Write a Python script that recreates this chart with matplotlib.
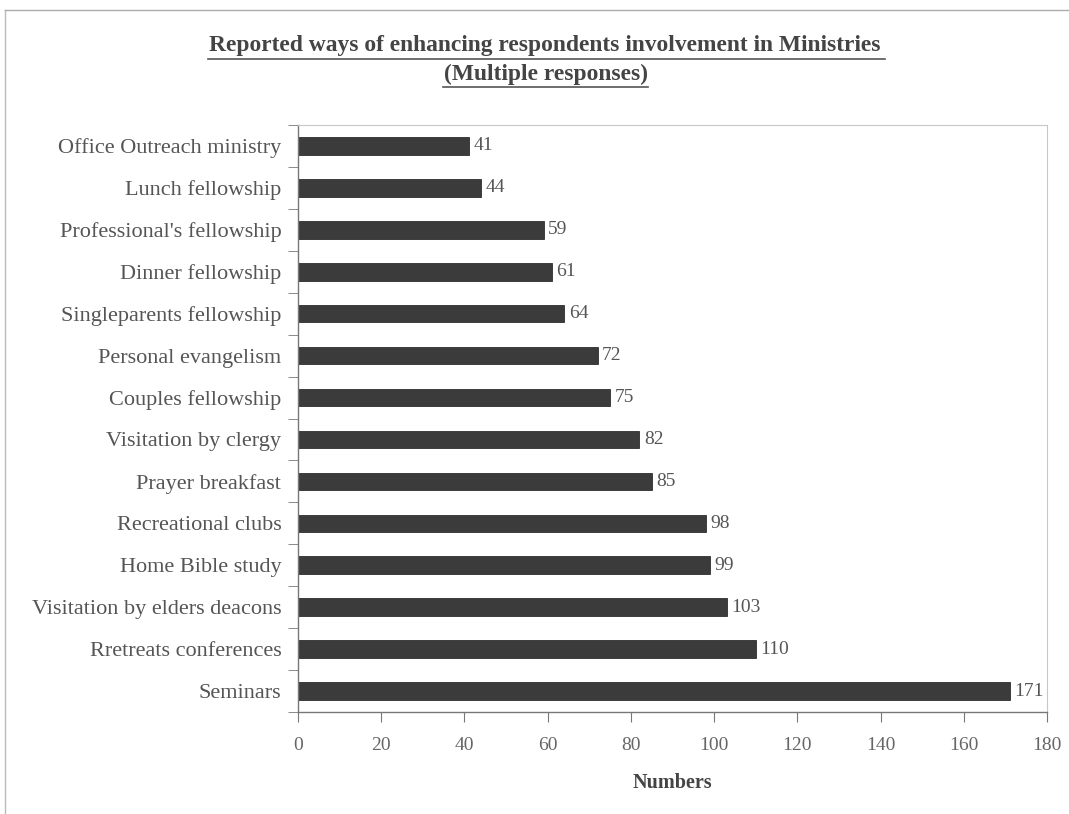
import matplotlib
matplotlib.use("Agg")
import matplotlib.pyplot as plt
from matplotlib.lines import Line2D

categories = [
    "Office Outreach ministry", "Lunch fellowship", "Professional's fellowship",
    "Dinner fellowship", "Singleparents fellowship", "Personal evangelism",
    "Couples fellowship", "Visitation by clergy", "Prayer breakfast",
    "Recreational clubs", "Home Bible study", "Visitation by elders deacons",
    "Rretreats conferences", "Seminars",
]
values = [41, 44, 59, 61, 64, 72, 75, 82, 85, 98, 99, 103, 110, 171]
xticks = [0, 20, 40, 60, 80, 100, 120, 140, 160, 180]

W, H = 1069, 814
fig = plt.figure(figsize=(W / 100, H / 100), dpi=100)
plt.rcParams["font.family"] = ["Liberation Serif", "DejaVu Serif"]

ax = fig.add_axes([298 / W, 1 - 712 / H, (1047 - 298) / W, (712 - 125) / H])

n = len(categories)
ypos = list(range(n))
ax.barh(ypos, values, height=0.42, color="#3b3b3b", edgecolor="#2e2e2e", linewidth=0.6)
for y, v in zip(ypos, values):
    ax.text(v + 1.1, y, f"{v}", va="center", ha="left", fontsize=14, color="#555555")

ax.set_ylim(n - 0.5, -0.5)
ax.set_xlim(0, 180)
ax.set_xticks(xticks)
ax.set_xticklabels([str(t) for t in xticks], fontsize=14, color="#666666")
ax.set_yticks(ypos)
ax.set_yticklabels(categories, fontsize=16, color="#555555")
ax.set_yticks([i - 0.5 for i in range(n + 1)], minor=True)
ax.tick_params(axis="y", which="major", length=0, pad=12)
ax.tick_params(axis="y", which="minor", length=7, color="#777777", direction="out")
ax.tick_params(axis="x", length=7, color="#777777", direction="out", pad=11)

for side in ("left", "bottom"):
    ax.spines[side].set_color("#777777")
    ax.spines[side].set_linewidth(1.0)
for side in ("top", "right"):
    ax.spines[side].set_color("#c8c8c8")
    ax.spines[side].set_linewidth(0.8)
    ax.spines[side].set_linestyle((0, (2, 1)))

ax.set_xlabel("Numbers", fontsize=14.5, fontweight="bold", color="#444444", labelpad=14)

# Title with underlines
fig.text(545 / W, 1 - 46 / H, "Reported ways of enhancing respondents involvement in Ministries",
         ha="center", va="center", fontsize=16.9, fontweight="bold", color="#444444")
fig.text(545.5 / W, 1 - 74 / H, "(Multiple responses)",
         ha="center", va="center", fontsize=16.9, fontweight="bold", color="#444444")
fig.add_artist(Line2D([208 / W, 885 / W], [1 - 59 / H, 1 - 59 / H],
                      transform=fig.transFigure, color="#555555", lw=1.2))
fig.add_artist(Line2D([443 / W, 648 / W], [1 - 87 / H, 1 - 87 / H],
                      transform=fig.transFigure, color="#555555", lw=1.2))

# Outer frame
fig.add_artist(Line2D([5 / W, 5 / W], [0, 1 - 10 / H], transform=fig.transFigure,
                      color="#bbbbbb", lw=1.0))
fig.add_artist(Line2D([5 / W, 1], [1 - 10 / H, 1 - 10 / H], transform=fig.transFigure,
                      color="#aaaaaa", lw=1.0))

fig.savefig("out.png", dpi=100, facecolor="white")
